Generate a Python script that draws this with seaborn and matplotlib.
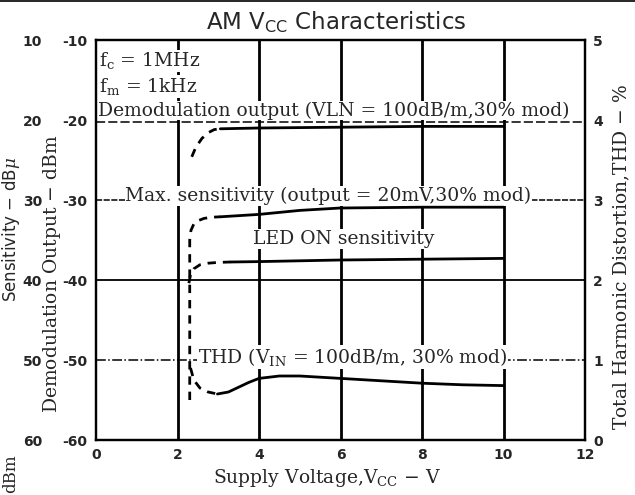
import numpy as np
import pandas as pd
import seaborn as sns
import matplotlib.pyplot as plt

# -------------------------------
# Data
# -------------------------------
volts_demod_dash = [2.35, 2.45, 2.6, 2.75, 2.9, 3.05]
demod_dash = [-24.6, -23.4, -22.3, -21.6, -21.2, -21.1]
volts_demod = [3.05, 4, 6, 8, 10]
demod = [-21.1, -21.0, -20.9, -20.8, -20.8]

volts_maxs_dash = [2.3, 2.3, 2.33, 2.4, 2.5, 2.65, 2.85, 3.05]
maxs_dash = [-55.0, -35.0, -33.8, -33.0, -32.6, -32.3, -32.15, -32.1]
volts_maxs = [3.05, 4, 5, 6, 8, 10]
maxs = [-32.1, -31.8, -31.3, -31.0, -30.9, -30.9]

volts_led_dash = [2.28, 2.32, 2.4, 2.55, 2.75, 3.0, 3.3]
led_dash = [-40.4, -39.3, -38.6, -38.1, -37.9, -37.8, -37.75]
volts_led = [3.3, 4, 6, 8, 10]
led = [-37.75, -37.7, -37.5, -37.4, -37.3]

volts_thd_dash = [2.32, 2.4, 2.55, 2.75, 2.98]
thd_dash = [0.9, 0.75, 0.65, 0.6, 0.575]
volts_thd = [2.98, 3.25, 3.5, 3.75, 4.0, 4.5, 5, 6, 7, 8, 9, 10]
thd = [0.575, 0.6, 0.66, 0.72, 0.77, 0.8, 0.8, 0.77, 0.74, 0.71, 0.69, 0.68]

x_ticks = [0, 2, 4, 6, 8, 10, 12]
dbm_ticks = [-10, -20, -30, -40, -50, -60]
dbu_ticks = [10, 20, 30, 40, 50, 60]
thd_ticks = [0, 1, 2, 3, 4, 5]

# -------------------------------
# Style
# -------------------------------
sns.set_style("white")
plt.rcParams['font.family'] = ['DejaVu Sans']
plt.rcParams['mathtext.fontset'] = 'dejavuserif'
plt.rcParams['axes.unicode_minus'] = False
serif = 'DejaVu Serif'
fs = 13.5

fig = plt.figure(figsize=(6.35, 4.95), dpi=100)
ax = fig.add_axes([96 / 635, 1 - 440 / 495, 489 / 635, 400 / 495])
ax2 = ax.twinx()

ax.set_xlim(0, 12)
ax.set_ylim(-60, -10)
ax2.set_ylim(0, 5)

# grid lines
for v in [2, 4, 6, 8, 10]:
    ax.axvline(v, color='black', lw=2.0, zorder=1)
ax.axhline(-40, color='black', lw=1.3, zorder=1)
ax.axhline(-20.2, color='black', lw=1.1, ls=(0, (6, 2)), zorder=1)
ax.axhline(-30, color='black', lw=1.1, ls=(0, (4, 1)), zorder=1)
ax.axhline(-50, color='black', lw=1.1, ls='-.', zorder=1)

# curves: dashed start-up part, then solid
kw = dict(color='black', lw=2.0, sort=False, estimator=None, legend=False, zorder=3)
dash = (0, (3, 2.5))
sns.lineplot(x=volts_demod_dash, y=demod_dash, ax=ax, ls=dash, **kw)
sns.lineplot(x=volts_demod, y=demod, ax=ax, **kw)
sns.lineplot(x=volts_maxs_dash, y=maxs_dash, ax=ax, ls=dash, **kw)
sns.lineplot(x=volts_maxs, y=maxs, ax=ax, **kw)
sns.lineplot(x=volts_led_dash, y=led_dash, ax=ax, ls=dash, **kw)
sns.lineplot(x=volts_led, y=led, ax=ax, **kw)
sns.lineplot(x=volts_thd_dash, y=thd_dash, ax=ax2, ls=dash, **kw)
sns.lineplot(x=volts_thd, y=thd, ax=ax2, **kw)
ax.set_xlabel('')
ax.set_ylabel('')

# annotations
box = dict(facecolor='white', edgecolor='none', pad=0.5)
tkw = dict(family=serif, fontsize=fs, zorder=2, bbox=box, va='center')
ax.text(0.08, -12.6, r'f$_\mathregular{c}$ = 1MHz', **tkw)
ax.text(0.08, -15.8, r'f$_\mathregular{m}$ = 1kHz', **tkw)
ax.text(0.06, -18.8, 'Demodulation output (VLN = 100dB/m,30% mod)', **tkw)
ax.text(0.72, -29.5, 'Max. sensitivity (output = 20mV,30% mod)', **tkw)
ax.text(3.85, -34.9, 'LED ON sensitivity', **tkw)
ax.text(2.5, -49.6, r'THD (V$_\mathregular{IN}$ = 100dB/m, 30% mod)', **tkw)

# axes
ax.set_xticks(x_ticks)
ax.set_yticks(dbm_ticks)
ax2.set_yticks(thd_ticks)
ax.tick_params(axis='both', length=0, labelsize=10, pad=6)
ax2.tick_params(axis='y', length=0, labelsize=10, pad=6)
for lab in ax.get_xticklabels() + ax.get_yticklabels() + ax2.get_yticklabels():
    lab.set_fontweight('bold')

sec = ax.secondary_yaxis(-0.105, functions=(lambda y: -y, lambda y: -y))
sec.set_yticks(dbu_ticks)
sec.tick_params(length=0, labelsize=10, pad=2)
sec.spines['left'].set_visible(False)
for lab in sec.get_yticklabels():
    lab.set_fontweight('bold')

for a in (ax, ax2):
    for s in a.spines.values():
        s.set_color('black')
        s.set_linewidth(1.6)

fig.text(336 / 635, 1 - 22 / 495, r'AM V$_{\mathregular{CC}}$ Characteristics', fontsize=16.5,
         family='DejaVu Sans', ha='center', va='center')
fig.text(327 / 635, 1 - 478 / 495, r'Supply Voltage,V$_\mathregular{CC}$ $-$ V', family=serif,
         fontsize=fs, ha='center', va='center')
fig.text(622 / 635, 1 - 257 / 495, 'Total Harmonic Distortion,THD $-$ %', family=serif,
         fontsize=fs, rotation=90, ha='center', va='center')
fig.text(52 / 635, 1 - 274 / 495, 'Demodulation Output $-$ dBm', family=serif, fontsize=fs,
         rotation=90, ha='center', va='center')
fig.text(11 / 635, 1 - 230 / 495, r'Sensitivity $-$ dB$\mu$', family='DejaVu Sans', fontsize=12,
         rotation=90, ha='center', va='center')
fig.text(11 / 635, 1 - 474 / 495, 'dBm', family=serif, fontsize=12,
         rotation=90, ha='center', va='center')
fig.add_artist(plt.Line2D([0, 1], [0.998, 0.998], color='black', lw=1.2))

plt.savefig('out.png', dpi=100)
